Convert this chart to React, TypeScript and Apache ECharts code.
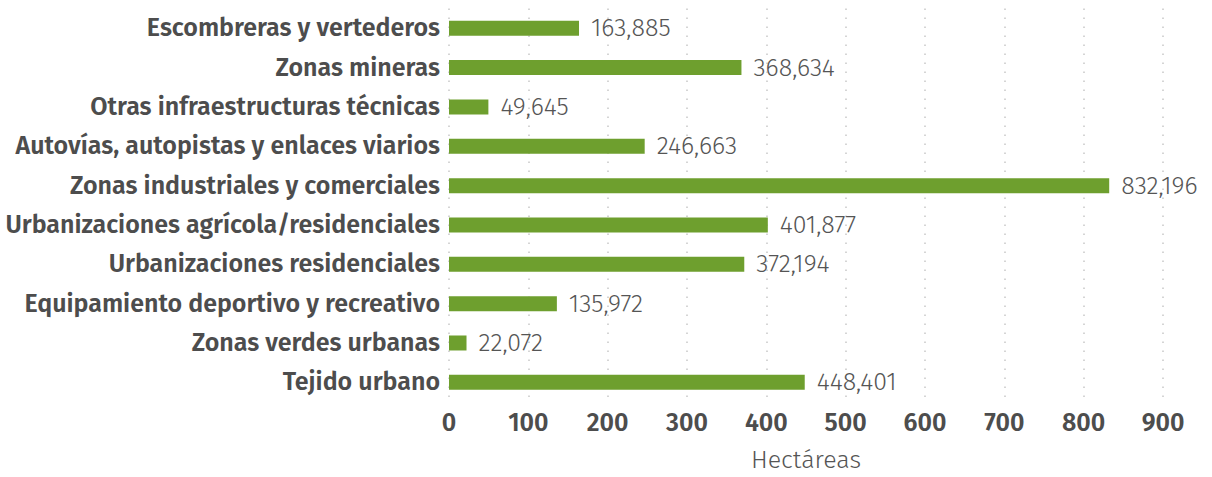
import React, { useEffect, useRef } from "react";
import * as echarts from "echarts";

const categories = [
  "Tejido urbano",
  "Zonas verdes urbanas",
  "Equipamiento deportivo y recreativo",
  "Urbanizaciones residenciales",
  "Urbanizaciones agrícola/residenciales",
  "Zonas industriales y comerciales",
  "Autovías, autopistas y enlaces viarios",
  "Otras infraestructuras técnicas",
  "Zonas mineras",
  "Escombreras y vertederos",
];
const values = [448.401, 22.072, 135.972, 372.194, 401.877, 832.196, 246.663, 49.645, 368.634, 163.885];
const axisName = "Hectáreas";

const FONT = "'Fira Sans', 'Noto Sans', 'Open Sans', sans-serif";
const TEXT = "#4d4d4d";

export default function App() {
  const ref = useRef<HTMLDivElement>(null);
  useEffect(() => {
    if (!ref.current) return;
    const chart = echarts.init(ref.current, null, { renderer: "svg" });
    chart.setOption({
      animation: false,
      grid: { left: 449, right: 49, top: 8.6, bottom: 65, containLabel: false },
      xAxis: {
        type: "value",
        min: 0,
        max: 900,
        interval: 100,
        name: axisName,
        nameLocation: "middle",
        nameGap: 45,
        nameTextStyle: { color: "#555555", fontSize: 25, fontWeight: 300, fontFamily: FONT },
        axisLine: { show: false },
        axisTick: { show: false },
        axisLabel: { color: TEXT, fontSize: 25, fontWeight: 600, fontFamily: FONT, margin: 8 },
        splitLine: { show: true, lineStyle: { color: "#c8c8c8", type: [1.5, 7.5], width: 1.5 } },
      },
      yAxis: {
        type: "category",
        data: categories,
        axisLine: { show: false },
        axisTick: { show: false },
        axisLabel: { color: TEXT, fontSize: 25, fontWeight: 600, fontFamily: FONT, margin: 9 },
      },
      series: [
        {
          type: "bar",
          data: values,
          barWidth: 15,
          itemStyle: { color: "#6e9f2e" },
          label: {
            show: true,
            position: "right",
            distance: 12,
            color: "#555555",
            fontSize: 25,
            fontWeight: 300,
            fontFamily: FONT,
            formatter: (p: any) => p.value.toFixed(3).replace(".", ","),
          },
        },
      ],
    });
    return () => chart.dispose();
  }, []);
  return <div ref={ref} style={{ width: 1212, height: 477, position: "absolute", left: 0, top: 0, background: "#fff" }} />;
}
